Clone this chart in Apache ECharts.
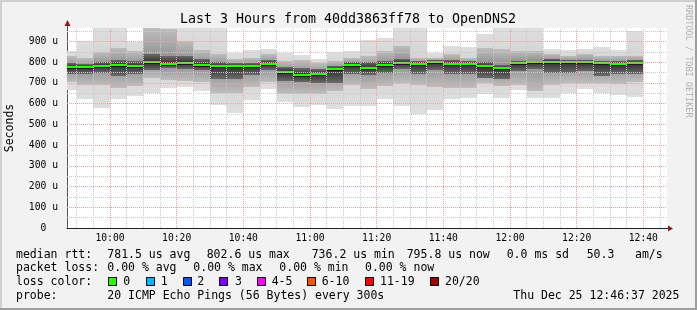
<!DOCTYPE html>
<html><head><meta charset="utf-8">
<script src="https://cdn.jsdelivr.net/npm/echarts@6/dist/echarts.min.js"></script>
<style>html,body{margin:0;padding:0;background:#f2f2f2}#c{width:697px;height:310px}</style>
</head><body><div id="c"></div>
<script>
// ---- data (5-minute steps, each value covers the 5 minutes ending at the time) ----
const times = ['09:50','09:55','10:00','10:05','10:10','10:15','10:20','10:25','10:30','10:35',
  '10:40','10:45','10:50','10:55','11:00','11:05','11:10','11:15','11:20','11:25',
  '11:30','11:35','11:40','11:45','11:50','11:55','12:00','12:05','12:10','12:15',
  '12:20','12:25','12:30','12:35','12:40'];
const median = [775,775,784,787,782,801,792,796,785,780,780,780,792,753,737,743,766,787,771,785,
  798,792,801,792,792,780,771,796,801,802,802,800,795,792,796];
const pMax = [852,903,990,990,898,1050,1040,1000,990,990,842,858,866,842,834,814,850,854,908,919,
  990,990,843,876,874,935,990,990,990,866,858,866,871,858,951];
const pHi1 = [830,822,850,870,854,980,960,900,860,840,815,822,838,806,810,798,806,822,830,854,
  880,820,822,838,822,870,865,854,854,838,830,838,830,830,830];
const pHi2 = [798,790,800,810,806,840,830,830,815,800,798,795,810,775,770,765,780,800,800,806,
  815,805,810,810,806,800,785,806,806,815,812,812,806,806,810];
const pLo2 = [745,742,750,735,742,760,770,765,760,720,720,740,760,710,705,700,700,745,738,750,
  765,745,760,745,742,726,720,758,765,750,750,758,735,745,745];
const pLo1 = [705,688,690,677,685,725,712,710,705,650,650,680,705,645,645,645,660,690,670,685,
  700,690,680,675,677,700,685,690,660,690,700,700,700,695,705];
const pMin = [668,621,581,621,637,653,677,682,661,592,556,617,669,608,585,592,572,588,588,621,
  588,552,569,621,629,648,627,666,627,627,653,669,653,641,634];
const xTickLabels = ['10:00','10:20','10:40','11:00','11:20','11:40','12:00','12:20','12:40'];
const viewStart = '09:47:06', viewEnd = '12:47:06';
const yMax = 965;
const titleText = 'Last 3 Hours from 40dd3863ff78 to OpenDNS2';
const legendRows = [
  [['median rtt:',16],['781.5 us avg',107.3],['802.6 us max',206.7],['736.2 us min',311.7],['795.8 us now',406.7],['0.0 ms sd',506.7],['50.3',586.7],['am/s',635]],
  [['packet loss:',16],['0.00 % avg',107.3],['0.00 % max',193.3],['0.00 % min',279.3],['0.00 % now',365]],
  [['loss color:',16]],
  [['probe:',16],['20 ICMP Echo Pings (56 Bytes) every 300s',107.3],['Thu Dec 25 12:46:37 2025',513.3]]
];
const lossLabels = ['0','1','2','3','4-5','6-10','11-19','20/20'];
const lossColors = ['#26ff00','#00b8ff','#0059ff','#7e00ff','#ff00ff','#ff5500','#ff0000','#a10000'];
const lossBoxX = [108.3,145.7,182.7,219.3,256.7,307.3,365,430];
const lossTextX = [123.3,160.7,197.3,235,271.7,321.7,380,445];

// ---- helpers ----
function toMin(s){const p=s.split(':').map(Number);return p[0]*60+p[1]+(p[2]||0)/60;}
const xMin = toMin(viewStart), xMax = toMin(viewEnd);
function fmt(m){const h=Math.floor(m/60), mm=Math.round(m%60);return String(h).padStart(2,'0')+':'+String(mm).padStart(2,'0');}
const ends = times.map(toMin);
function band(lo, hi){return ends.map((e,i)=>[e-5, e, lo[i], hi[i], median[i]]);}
const MONO = '"DejaVu Sans Mono", monospace';

function bandRender(cEdge, cMid){
  return function(params, api){
    const x0=api.value(0), x1=api.value(1), lo=api.value(2), hi=api.value(3), med=api.value(4);
    const a=api.coord([x0,hi]), b=api.coord([x1,lo]);
    const cs=params.coordSys;
    const left=Math.round(Math.max(a[0],cs.x)), right=Math.round(Math.min(b[0],cs.x+cs.width));
    const top=Math.round(Math.max(a[1],cs.y)), bottom=Math.round(Math.min(b[1],cs.y+cs.height));
    const pm=api.coord([x0,med])[1];
    let f=(pm-top)/Math.max(1,bottom-top); f=Math.min(0.98,Math.max(0.02,f));
    return {type:'rect', shape:{x:left,y:top,width:right-left,height:bottom-top},
      style:{fill:new echarts.graphic.LinearGradient(0,0,0,1,[{offset:0,color:cEdge},{offset:f,color:cMid},{offset:1,color:cEdge}])}};
  };
}
function medRender(params, api){
  const x0=api.value(0), x1=api.value(1), m=api.value(2);
  const a=api.coord([x0,m]), b=api.coord([x1,m]);
  const cs=params.coordSys;
  const left=Math.round(Math.max(a[0],cs.x)), right=Math.round(Math.min(b[0],cs.x+cs.width));
  const y=Math.round(a[1]);
  return {type:'group', children:[
    {type:'rect', shape:{x:left,y:y+1,width:right-left,height:1}, style:{fill:'#1a1a1a'}},
    {type:'rect', shape:{x:left,y:y-1,width:right-left,height:2}, style:{fill:'#26ff00'}}
  ]};
}

const gridLines = [];
for(let m=Math.ceil(xMin/5)*5; m<xMax; m+=5){
  gridLines.push({xAxis:m, lineStyle:{color:(m%20===0)?'#eda3a3':'#c9c9c9'}});
}
for(let v=50; v<yMax; v+=50){
  gridLines.push({yAxis:v, lineStyle:{color:(v%100===0)?'#eda3a3':'#c9c9c9'}});
}

const chart = echarts.init(document.getElementById('c'), null, {renderer:'canvas'});
const option = {
  animation:false,
  backgroundColor:'#f2f2f2',
  grid:{left:67, top:28, width:600, height:200, show:true, backgroundColor:'#ffffff', borderWidth:0},
  xAxis:{type:'value', min:xMin, max:xMax,
    axisLine:{show:true, lineStyle:{color:'#222', width:1}},
    axisTick:{show:false}, splitLine:{show:false},
    axisLabel:{customValues:xTickLabels.map(toMin), formatter:v=>fmt(v), fontFamily:MONO, fontSize:9.7, color:'#000', margin:5}
  },
  yAxis:{type:'value', min:0, max:yMax, interval:50,
    axisLine:{show:true, lineStyle:{color:'#555', width:1}},
    axisTick:{show:false}, splitLine:{show:false},
    axisLabel:{formatter:v=>{v=Math.round(v);if(v%100!==0||v>yMax)return '';return v===0?'  0  ':v+' u';},
      fontFamily:MONO, fontSize:9.7, color:'#000', margin:9, showMaxLabel:false}
  },
  series:[
    {type:'custom', z:1, renderItem:bandRender('#dedede','#d2d2d2'), data:band(pMin,pMax), encode:{x:[0,1],y:[2,3]}},
    {type:'custom', z:1, renderItem:bandRender('#bdbdbd','#8c8c8c'), data:band(pLo1,pHi1), encode:{x:[0,1],y:[2,3]}},
    {type:'custom', z:1, renderItem:bandRender('#6a6a6a','#2e2e2e'), data:band(pLo2,pHi2), encode:{x:[0,1],y:[2,3]}},
    {type:'line', z:2, data:[], silent:true,
      markLine:{silent:true, symbol:['none','none'], label:{show:false}, animation:false,
        lineStyle:{width:1, type:[1,1]}, emphasis:{disabled:true}, data:gridLines}},
    {type:'custom', z:3, renderItem:medRender, data:ends.map((e,i)=>[e-5,e,median[i]]), encode:{x:[0,1],y:2}}
  ]
};
chart.setOption(option);

// decorations: axis extensions + arrows, texts, frame
const o = chart.convertToPixel({gridIndex:0},[xMin,0]);
const tr = chart.convertToPixel({gridIndex:0},[xMax,yMax]);
const g = [];
const ox=Math.round(o[0])+0.5, oy=Math.round(o[1])+0.5;
g.push({type:'line', shape:{x1:tr[0],y1:oy,x2:tr[0]+2,y2:oy}, style:{stroke:'#222',lineWidth:1}, z:10});
g.push({type:'polygon', shape:{points:[[tr[0]+1,oy-3],[tr[0]+6,oy],[tr[0]+1,oy+3]]}, style:{fill:'#901818'}, z:10});
g.push({type:'line', shape:{x1:ox,y1:tr[1],x2:ox,y2:tr[1]-3}, style:{stroke:'#555',lineWidth:1}, z:10});
g.push({type:'polygon', shape:{points:[[ox-3,tr[1]-2],[ox,tr[1]-8],[ox+3,tr[1]-2]]}, style:{fill:'#901818'}, z:10});
g.push({type:'text', x:348, y:19.5, style:{text:titleText, font:'13.3px '+MONO, fill:'#000', align:'center', verticalAlign:'middle'}});
g.push({type:'text', x:10.5, y:128, rotation:Math.PI/2, style:{text:'Seconds', font:'11.5px '+MONO, fill:'#000', align:'center', verticalAlign:'middle'}});
g.push({type:'text', x:688, y:5, rotation:-Math.PI/2, style:{text:'RRDTOOL / TOBI OETIKER', font:'8.5px '+MONO, fill:'#b0b0b0', align:'left', verticalAlign:'middle'}});
const rowY=[255,268.3,282,295.7];
legendRows.forEach((row,r)=>row.forEach(([t,x])=>g.push({type:'text', x:x, y:rowY[r], style:{text:t, font:'11.5px '+MONO, fill:'#000', align:'left', verticalAlign:'middle'}})));
lossLabels.forEach((t,i)=>{
  g.push({type:'rect', shape:{x:Math.round(lossBoxX[i])+0.5,y:277.5,width:8,height:8}, style:{fill:lossColors[i],stroke:'#000',lineWidth:1}});
  g.push({type:'text', x:lossTextX[i], y:rowY[2], style:{text:t, font:'11.5px '+MONO, fill:'#000', align:'left', verticalAlign:'middle'}});
});
g.push({type:'rect', shape:{x:0,y:0,width:697,height:2}, style:{fill:'#d0d0d0'}});
g.push({type:'rect', shape:{x:0,y:0,width:2,height:310}, style:{fill:'#d0d0d0'}});
g.push({type:'rect', shape:{x:0,y:308,width:697,height:2}, style:{fill:'#9e9e9e'}});
g.push({type:'rect', shape:{x:695,y:0,width:2,height:310}, style:{fill:'#9e9e9e'}});
chart.setOption({graphic:g});
</script></body></html>
